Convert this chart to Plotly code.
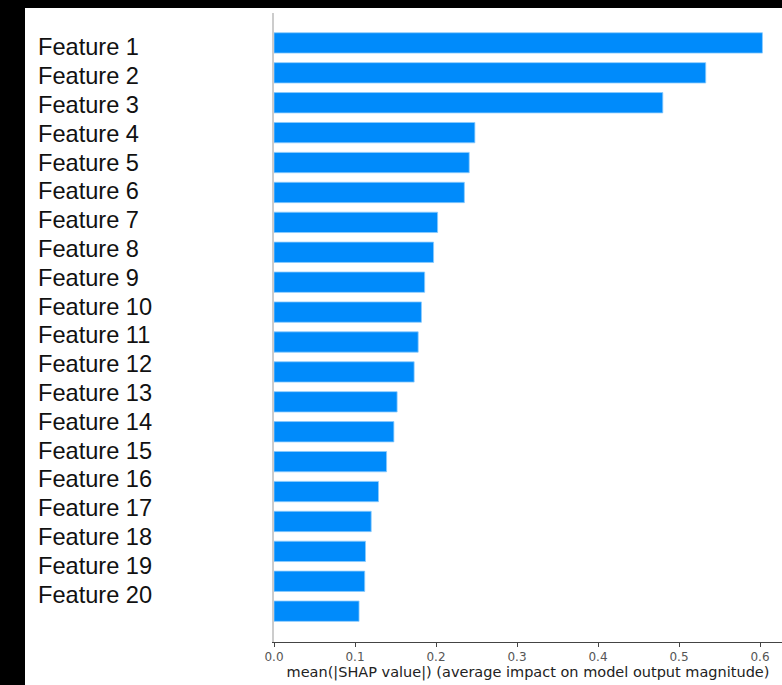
import plotly.graph_objects as go

features = [f"Feature {i}" for i in range(1, 21)]
values = [0.603, 0.533, 0.480, 0.248, 0.241, 0.235, 0.202, 0.197, 0.186, 0.182,
          0.178, 0.173, 0.152, 0.148, 0.139, 0.129, 0.120, 0.113, 0.112, 0.105]
x_title = "mean(|SHAP value|) (average impact on model output magnitude)"
x_ticks = [0.0, 0.1, 0.2, 0.3, 0.4, 0.5, 0.6]

W, H = 782, 685
L, R, T, B = 274, 0, 13, 43
ph = H - T - B

fig = go.Figure()
fig.add_trace(go.Bar(
    x=values, y=features, orientation="h",
    marker=dict(color="#008bfb", line=dict(color="#8ccbfd", width=0.8)),
    width=0.68,
))

# feature labels (left-aligned text column)
label_top_px, label_step_px = 47.3, 28.8
for i, name in enumerate(features):
    ypx = label_top_px + i * label_step_px
    fig.add_annotation(
        text=name, xref="paper", yref="paper",
        x=(36 - L) / (W - L - R), y=1 - (ypx - T) / ph,
        xanchor="left", yanchor="middle", showarrow=False,
        font=dict(family="Liberation Sans, Arial", size=23.6, color="#111111"),
    )

# black frame strips (top and left)
fig.add_shape(type="rect", xref="paper", yref="paper",
              x0=-L / (W - L - R), x1=1.0,
              y0=1 + (T - 8) / ph, y1=1 + T / ph + 0.01,
              fillcolor="black", line=dict(width=0), layer="above")
fig.add_shape(type="rect", xref="paper", yref="paper",
              x0=-L / (W - L - R) - 0.01, x1=(25 - L) / (W - L - R),
              y0=-B / ph - 0.01, y1=1 + T / ph + 0.01,
              fillcolor="black", line=dict(width=0), layer="above")

fig.update_layout(
    width=W, height=H,
    margin=dict(l=L, r=R, t=T, b=B),
    paper_bgcolor="white", plot_bgcolor="white",
    showlegend=False,
    xaxis=dict(
        range=[0, (W - L - R) / 810.0],
        tickvals=x_ticks, ticktext=[f"{v:.1f}" for v in x_ticks],
        ticks="outside", ticklen=4, tickwidth=1, tickcolor="#444444",
        showline=True, linecolor="#444444", linewidth=1,
        showgrid=False, zeroline=False,
        tickfont=dict(family="DejaVu Sans", size=12, color="#555555"),
        title=dict(text=x_title, standoff=3,
                   font=dict(family="DejaVu Sans", size=14.5, color="#222222")),
    ),
    yaxis=dict(
        range=[20.03, -1.0],
        showticklabels=False, ticks="",
        showline=True, linecolor="#cccccc", linewidth=1.5,
        showgrid=False, zeroline=False,
    ),
)

fig.write_html("out.html")
